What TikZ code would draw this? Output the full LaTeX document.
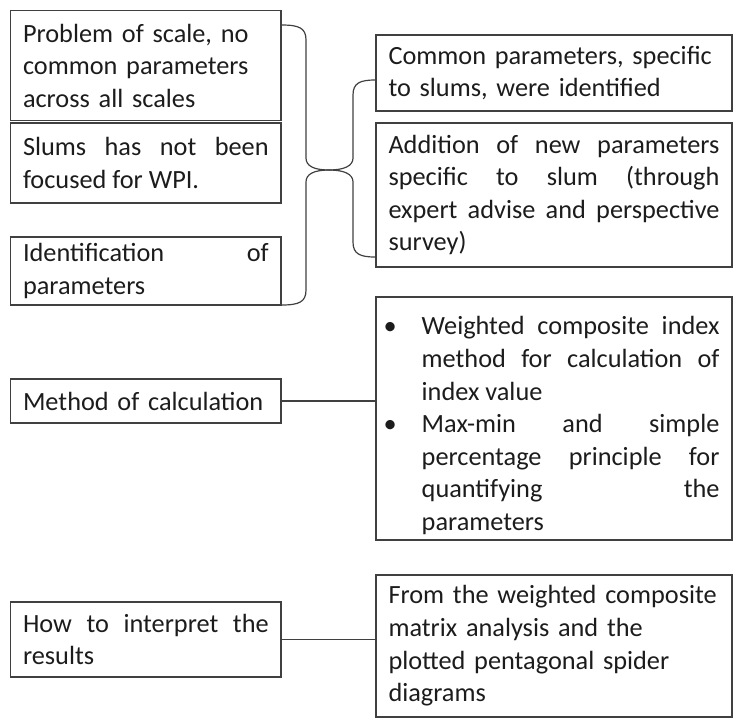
\documentclass[tikz,border=0pt]{standalone}
\usepackage{fontspec}
\setmainfont{Carlito}
\usetikzlibrary{calc}
\definecolor{lc}{RGB}{64,64,64}
\definecolor{tc}{RGB}{28,28,28}
\newcommand{\boxfont}{\fontsize{26.3}{32.6}\selectfont\tolerance=10000\relax\hyphenpenalty=10000\relax\exhyphenpenalty=10000\relax}
\newcommand{\bitem}[1]{\par\noindent\hangindent=33.2pt\relax\hangafter=1\relax\makebox[33.2pt][l]{\hspace{-5pt}•}#1\par}
\begin{document}
\begin{tikzpicture}[x=1pt,y=-1pt,
  box/.style={draw=lc, line width=1.2pt, inner ysep=0pt, text=tc, font=\boxfont},
  lbox/.style={box, inner xsep=12.3pt, text width=245.7pt},
  rbox/.style={box, inner xsep=12.5pt, text width=331pt},
  link/.style={draw=lc, line width=1.2pt}]
\useasboundingbox (0,0) rectangle (735,721);

% left column
\node[lbox, align=left, minimum height=110pt] (b1) at (145.85,65.7)
  {Problem of scale, no\\common parameters\\across all scales};
\node[lbox, align=justify, minimum height=80pt] (b2) at (145.85,163)
  {Slums has not been\linebreak focused for WPI.};
\node[lbox, align=justify, minimum height=68pt] (b3) at (145.85,271)
  {Identification of\linebreak parameters};
\node[lbox, align=left, minimum height=44pt] (b7) at (145.85,401)
  {Method of calculation};
\node[lbox, align=justify, minimum height=75pt] (b8) at (145.85,639.5)
  {How to interpret the\linebreak results};

% right column
\node[rbox, align=left, minimum height=76pt] (b4) at (554,73)
  {Common parameters, specific\\to slums, were identified};
\node[rbox, align=justify, minimum height=144pt] (b5) at (554,195)
  {Addition of new parameters\linebreak specific to slum (through\linebreak expert advise and perspective\linebreak survey)};
\node[rbox, align=justify, minimum height=243pt] (b6) at (554,418.5)
  {\bitem{Weighted composite index\linebreak method for calculation of\linebreak index value}%
   \bitem{Max-min and simple\linebreak percentage principle for\linebreak quantifying the\linebreak parameters}};
\node[rbox, align=left, minimum height=142pt] (b9) at (554,646)
  {From the weighted composite\\matrix analysis and the\\plotted pentagonal spider\\diagrams};

% braces
\coordinate (cusp) at (329,170);
\draw[link] (b1.east |- 0,25) .. controls (299,25) and (306,28) .. (306,40)
  -- (306,158) .. controls (306,166) and (314,170) .. (cusp);
\draw[link] (b3.east |- 0,305) .. controls (299,305) and (306,302) .. (306,290)
  -- (306,182) .. controls (306,174) and (314,170) .. (cusp);
\draw[link] (b4.west |- 0,80) .. controls (360,80) and (353,83) .. (353,95)
  -- (353,158) .. controls (353,166) and (344,170) .. (cusp);
\draw[link] (b5.west |- 0,257) .. controls (360,257) and (353,254) .. (353,242)
  -- (353,182) .. controls (353,174) and (344,170) .. (cusp);

% straight connectors
\draw[link] (b7.east) -- (b7.east -| b6.west);
\draw[link] (b8.east) -- (b8.east -| b9.west);
\end{tikzpicture}
\end{document}
